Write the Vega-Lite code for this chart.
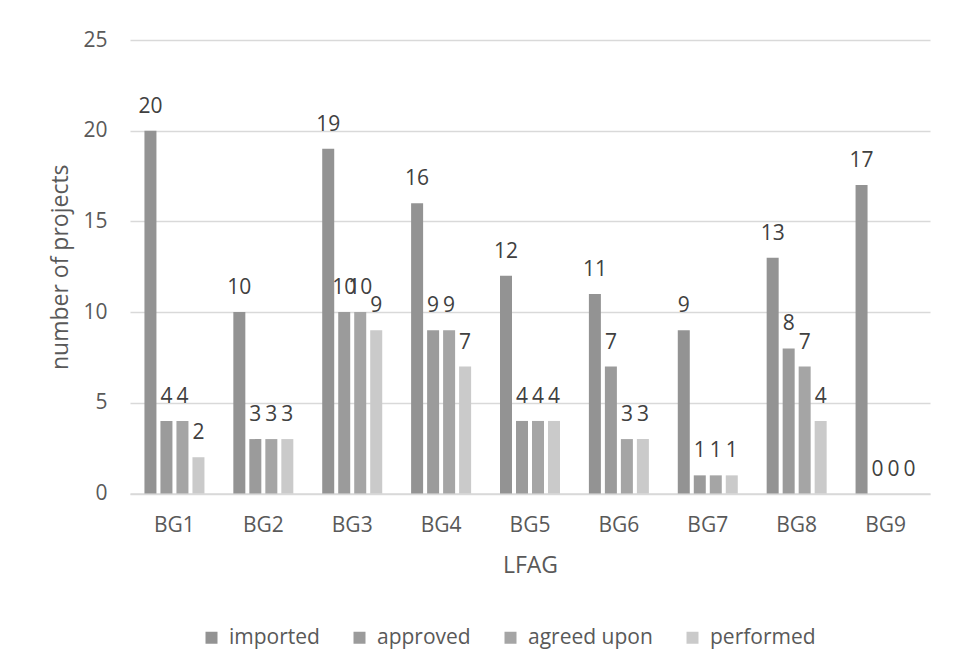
{
  "$schema": "https://vega.github.io/schema/vega-lite/v6.json",
  "width": 800,
  "height": 453.5,
  "autosize": {"type": "none"},
  "padding": {"left": 130, "top": 40, "right": 23, "bottom": 176},
  "background": "white",
  "config": {
    "font": "Open Sans",
    "view": {"stroke": null},
    "axis": {"labelColor": "#595959", "titleColor": "#595959", "labelFontWeight": "normal", "titleFontWeight": "normal"}
  },
  "data": {
    "values": [
      {"group": "BG1", "series": "imported", "value": 20},
      {"group": "BG1", "series": "approved", "value": 4},
      {"group": "BG1", "series": "agreed upon", "value": 4},
      {"group": "BG1", "series": "performed", "value": 2},
      {"group": "BG2", "series": "imported", "value": 10},
      {"group": "BG2", "series": "approved", "value": 3},
      {"group": "BG2", "series": "agreed upon", "value": 3},
      {"group": "BG2", "series": "performed", "value": 3},
      {"group": "BG3", "series": "imported", "value": 19},
      {"group": "BG3", "series": "approved", "value": 10},
      {"group": "BG3", "series": "agreed upon", "value": 10},
      {"group": "BG3", "series": "performed", "value": 9},
      {"group": "BG4", "series": "imported", "value": 16},
      {"group": "BG4", "series": "approved", "value": 9},
      {"group": "BG4", "series": "agreed upon", "value": 9},
      {"group": "BG4", "series": "performed", "value": 7},
      {"group": "BG5", "series": "imported", "value": 12},
      {"group": "BG5", "series": "approved", "value": 4},
      {"group": "BG5", "series": "agreed upon", "value": 4},
      {"group": "BG5", "series": "performed", "value": 4},
      {"group": "BG6", "series": "imported", "value": 11},
      {"group": "BG6", "series": "approved", "value": 7},
      {"group": "BG6", "series": "agreed upon", "value": 3},
      {"group": "BG6", "series": "performed", "value": 3},
      {"group": "BG7", "series": "imported", "value": 9},
      {"group": "BG7", "series": "approved", "value": 1},
      {"group": "BG7", "series": "agreed upon", "value": 1},
      {"group": "BG7", "series": "performed", "value": 1},
      {"group": "BG8", "series": "imported", "value": 13},
      {"group": "BG8", "series": "approved", "value": 8},
      {"group": "BG8", "series": "agreed upon", "value": 7},
      {"group": "BG8", "series": "performed", "value": 4},
      {"group": "BG9", "series": "imported", "value": 17},
      {"group": "BG9", "series": "approved", "value": 0},
      {"group": "BG9", "series": "agreed upon", "value": 0},
      {"group": "BG9", "series": "performed", "value": 0}
    ]
  },
  "encoding": {
    "x": {
      "field": "group", "type": "nominal", "title": "LFAG",
      "scale": {"paddingInner": 0.325, "paddingOuter": 0.1625},
      "axis": {"labelAngle": 0, "labelFontSize": 21, "labelPadding": 21, "tickSize": 0, "domainColor": "#d9d9d9", "domainWidth": 1.3, "titleFontSize": 23, "titlePadding": 19}
    },
    "xOffset": {
      "field": "series", "type": "nominal",
      "sort": ["imported", "approved", "agreed upon", "performed"],
      "scale": {"paddingInner": 0.25, "paddingOuter": 0}
    },
    "y": {
      "field": "value", "type": "quantitative", "title": "number of projects",
      "scale": {"domain": [0, 25]},
      "axis": {"values": [0, 5, 10, 15, 20, 25], "labelFontSize": 21, "labelPadding": 23, "tickSize": 0, "domain": false, "gridColor": "#d9d9d9", "gridWidth": 1.3, "titleFontSize": 23, "titlePadding": 10}
    }
  },
  "layer": [
    {
      "mark": {"type": "bar"},
      "encoding": {
        "color": {
          "field": "series", "type": "nominal",
          "sort": ["imported", "approved", "agreed upon", "performed"],
          "scale": {"domain": ["imported", "approved", "agreed upon", "performed"], "range": ["#939393", "#9b9b9b", "#a5a5a5", "#cacaca"]},
          "legend": {"orient": "none", "legendX": 71, "legendY": 587, "direction": "horizontal", "title": null, "symbolType": "square", "symbolSize": 144, "symbolStrokeWidth": 0, "labelFontSize": 21, "labelColor": "#595959", "columnPadding": 29, "labelOffset": 7}
        }
      }
    },
    {
      "mark": {"type": "text", "baseline": "alphabetic", "dy": -18, "fontSize": 21, "color": "#404040"},
      "encoding": {"text": {"field": "value", "type": "quantitative"}}
    }
  ]
}
